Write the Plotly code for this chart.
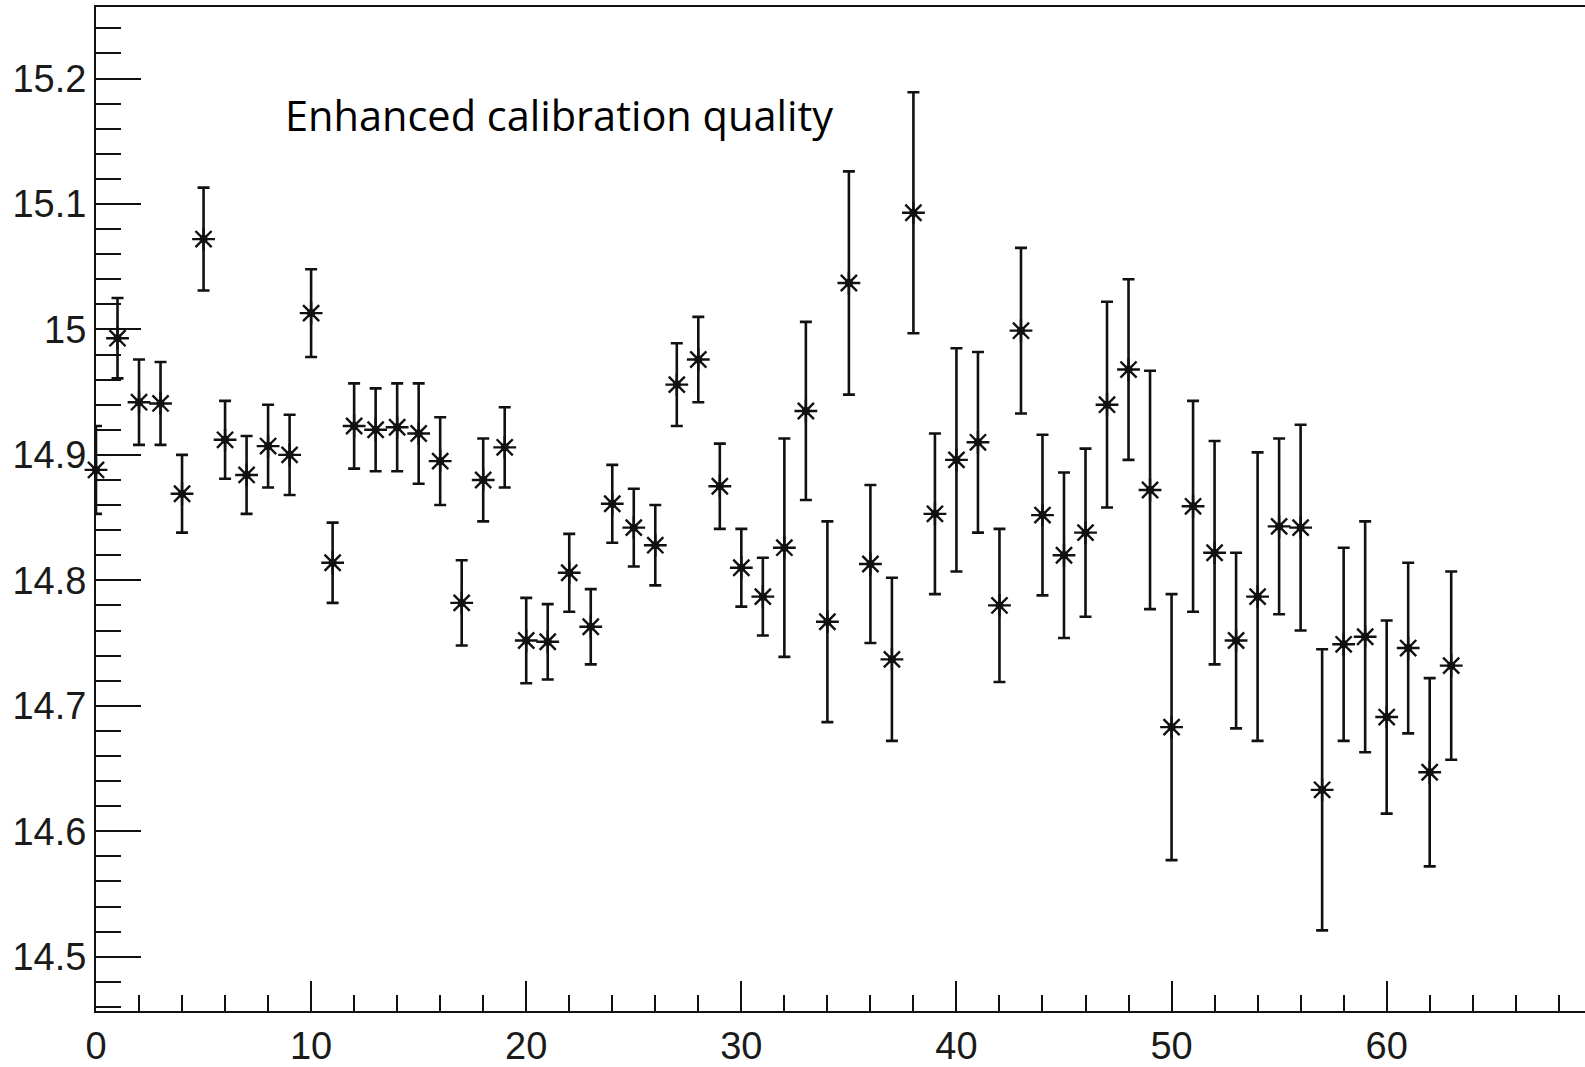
import plotly.graph_objects as go

# Channel index and measured value with its uncertainty
channel = list(range(64))
value = [
    14.888, 14.993, 14.942, 14.941, 14.869, 15.072, 14.912, 14.884, 14.907, 14.900,
    15.013, 14.814, 14.923, 14.920, 14.922, 14.917, 14.895, 14.782, 14.880, 14.906,
    14.752, 14.751, 14.806, 14.763, 14.861, 14.842, 14.828, 14.956, 14.976, 14.875,
    14.810, 14.787, 14.826, 14.935, 14.767, 15.037, 14.813, 14.737, 15.093, 14.853,
    14.896, 14.910, 14.780, 14.999, 14.852, 14.820, 14.838, 14.940, 14.968, 14.872,
    14.683, 14.859, 14.822, 14.752, 14.787, 14.843, 14.842, 14.633, 14.749, 14.755,
    14.691, 14.746, 14.647, 14.732,
]
error = [
    0.035, 0.032, 0.034, 0.033, 0.031, 0.041, 0.031, 0.031, 0.033, 0.032,
    0.035, 0.032, 0.034, 0.033, 0.035, 0.040, 0.035, 0.034, 0.033, 0.032,
    0.034, 0.030, 0.031, 0.030, 0.031, 0.031, 0.032, 0.033, 0.034, 0.034,
    0.031, 0.031, 0.087, 0.071, 0.080, 0.089, 0.063, 0.065, 0.096, 0.064,
    0.089, 0.072, 0.061, 0.066, 0.064, 0.066, 0.067, 0.082, 0.072, 0.095,
    0.106, 0.084, 0.089, 0.070, 0.115, 0.070, 0.082, 0.112, 0.077, 0.092,
    0.077, 0.068, 0.075, 0.075,
]

y_tickvals = [14.5, 14.6, 14.7, 14.8, 14.9, 15.0, 15.1, 15.2]
y_ticktext = ["14.5", "14.6", "14.7", "14.8", "14.9", "15", "15.1", "15.2"]
x_tickvals = [0, 10, 20, 30, 40, 50, 60]
x_ticktext = ["0", "10", "20", "30", "40", "50", "60"]

label_text = "Enhanced calibration quality"

INK = "#111111"

fig = go.Figure()

# error bars (clipped to the frame)
fig.add_trace(go.Scatter(
    x=channel, y=value, mode="markers",
    marker=dict(size=1, color="rgba(0,0,0,0)"),
    error_y=dict(type="data", array=error, visible=True,
                 color=INK, thickness=2.6, width=6),
    cliponaxis=True, showlegend=False, hoverinfo="skip",
))
# asterisk markers
fig.add_trace(go.Scatter(
    x=channel, y=value, mode="markers",
    marker=dict(symbol="asterisk-open", size=19, color=INK,
                line=dict(width=2.4, color=INK)),
    cliponaxis=False, showlegend=False,
))
# central dot of each marker
fig.add_trace(go.Scatter(
    x=channel, y=value, mode="markers",
    marker=dict(symbol="circle", size=8, color=INK, line=dict(width=0)),
    cliponaxis=False, showlegend=False, hoverinfo="skip",
))

fig.add_annotation(
    x=8.7, y=15.171, xref="x", yref="y",
    text=label_text, showarrow=False,
    xanchor="left", yanchor="middle",
    font=dict(family="Open Sans", size=41.5, color="#000000"),
)

tick_font = dict(family="Liberation Sans, Arial, sans-serif", size=38, color="#1a1a1a")

fig.update_layout(
    width=1585, height=1067,
    margin=dict(l=96, r=0, t=7, b=50),
    paper_bgcolor="white", plot_bgcolor="white",
    xaxis=dict(
        range=[0, 69.22], showgrid=False, zeroline=False,
        showline=True, linecolor=INK, linewidth=2, mirror=True,
        ticks="inside", ticklen=30, tickwidth=2, tickcolor=INK,
        tickmode="array", tickvals=x_tickvals, ticktext=x_ticktext,
        tickfont=tick_font,
        minor=dict(ticks="inside", dtick=2, tick0=0, ticklen=16,
                   tickwidth=2, tickcolor=INK, showgrid=False),
    ),
    yaxis=dict(
        range=[14.4567, 15.257], showgrid=False, zeroline=False,
        showline=True, linecolor=INK, linewidth=2, mirror=False,
        ticks="inside", ticklen=45, tickwidth=2, tickcolor=INK,
        tickmode="array", tickvals=y_tickvals, ticktext=y_ticktext,
        tickfont=tick_font,
        minor=dict(ticks="inside", dtick=0.02, tick0=14.5, ticklen=25,
                   tickwidth=2, tickcolor=INK, showgrid=False),
    ),
)

fig.write_html("out.html")
